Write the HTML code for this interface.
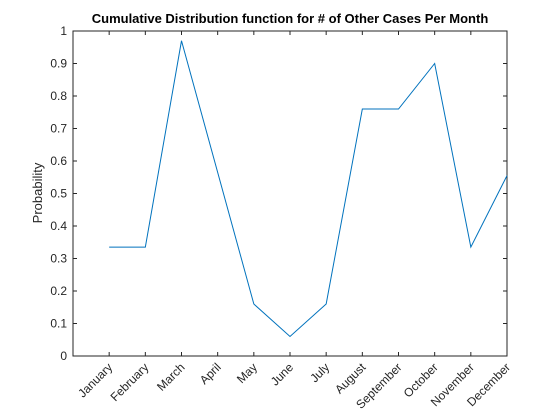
<!DOCTYPE html>
<html><head><meta charset="utf-8"><style>
html,body{margin:0;padding:0;background:#fff;}
svg{display:block;font-family:"Liberation Sans",Arial,sans-serif;}
</style></head><body>
<svg id="chart" width="560" height="420">
<rect x="0" y="0" width="560" height="420" fill="#fff"/>
<rect x="73" y="31" width="434" height="325" fill="#fff" stroke="#262626" stroke-width="1"/>
<text x="290" y="23" text-anchor="middle" font-size="13" font-weight="bold" fill="#000">Cumulative Distribution function for # of Other Cases Per Month</text>
<text transform="translate(42,193) rotate(-90)" text-anchor="middle" font-size="13" fill="#262626">Probability</text>
<g id="yticks"></g><g id="xticks"></g><g id="series"></g>
</svg>
<script>
const categories=["January","February","March","April","May","June","July","August","September","October","November","December"];
const values=[0.335,0.335,0.97,0.565,0.16,0.06,0.16,0.76,0.76,0.9,0.335,0.555];
const yTickLabels=["0","0.1","0.2","0.3","0.4","0.5","0.6","0.7","0.8","0.9","1"];
const L=73,R=507,T=31,B=356,NS="http://www.w3.org/2000/svg";
const xs=i=>L+(i+1)*(R-L)/12;
const ys=v=>B-v*(B-T);
function mk(tag,attrs,parent){const e=document.createElementNS(NS,tag);for(const k in attrs)e.setAttribute(k,attrs[k]);parent.appendChild(e);return e;}
const yg=document.getElementById('yticks');
yTickLabels.forEach(t=>{const v=parseFloat(t),y=ys(v);
 mk('line',{x1:L,x2:L+4,y1:y,y2:y,stroke:'#262626'},yg);
 mk('line',{x1:R,x2:R-4,y1:y,y2:y,stroke:'#262626'},yg);
 const tx=mk('text',{x:L-6,y:y+4,'text-anchor':'end','font-size':'12',fill:'#262626'},yg);tx.textContent=t;
 
 
});
const xg=document.getElementById('xticks');
categories.forEach((c,i)=>{const x=xs(i);
 mk('line',{x1:x,x2:x,y1:B,y2:B-4,stroke:'#262626'},xg);
 mk('line',{x1:x,x2:x,y1:T,y2:T+4,stroke:'#262626'},xg);
 const tx=mk('text',{x:x+4,y:B+12,'text-anchor':'end','font-size':'12',fill:'#262626',transform:`rotate(-45 ${x+4} ${B+12})`},xg);tx.textContent=c;
 
 
});
const sg=document.getElementById('series');
const p=mk('polyline',{points:values.map((v,i)=>xs(i)+','+ys(v)).join(' '),fill:'none',stroke:'#0072BD','stroke-width':'1'},sg);


</script>
</body></html>
